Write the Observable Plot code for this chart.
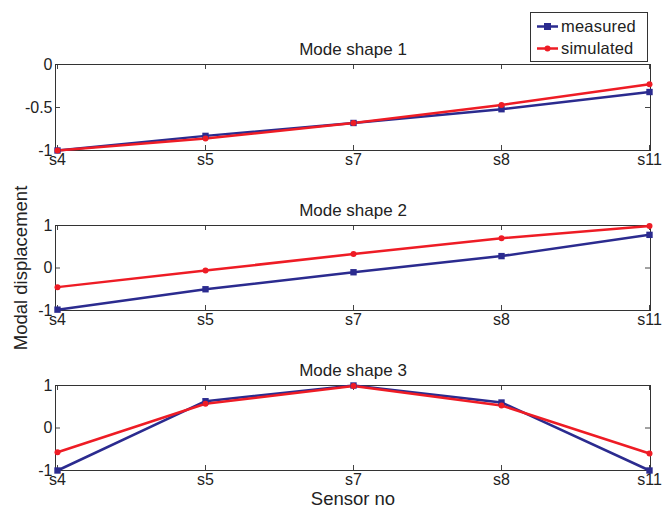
<!DOCTYPE html>
<html>
<head>
<meta charset="utf-8">
<script src="https://cdn.jsdelivr.net/npm/d3@7"></script>
<script src="https://cdn.jsdelivr.net/npm/@observablehq/plot@0.6"></script>
<style>
  html, body { margin: 0; padding: 0; background: #fff; }
  #fig { position: relative; width: 664px; height: 514px; background: #fff;
         font-family: "Liberation Sans", Arial, sans-serif; color: #222; }
  #fig svg.plot { position: absolute; left: 0; }
  #legend { position: absolute; left: 530px; top: 12px; width: 116px; height: 48px;
            border: 1px solid #333; background: #fff; font-size: 16.5px; }
  #legend .row { position: absolute; left: 6px; height: 20px; display: flex; align-items: center; }
  #legend .row span { margin-left: 3px; letter-spacing: 0.2px; }
</style>
</head>
<body>
<div id="fig"></div>
<script>
// Sensor positions along the structure
const sensors = ["s4", "s5", "s7", "s8", "s11"];

// Mode shape 1
const mode1Measured  = [-1.00, -0.83, -0.68, -0.52, -0.32];
const mode1Simulated = [-1.00, -0.86, -0.68, -0.47, -0.23];
const mode1Ticks = [-1, -0.5, 0];

// Mode shape 2
const mode2Measured  = [-0.98, -0.50, -0.10, 0.28, 0.78];
const mode2Simulated = [-0.45, -0.06, 0.33, 0.70, 0.99];
const mode2Ticks = [-1, 0, 1];

// Mode shape 3
const mode3Measured  = [-1.00, 0.63, 1.00, 0.60, -1.00];
const mode3Simulated = [-0.57, 0.57, 0.99, 0.53, -0.60];
const mode3Ticks = [-1, 0, 1];

const seriesNames = ["measured", "simulated"];
const colors = {measured: "#2b2b8f", simulated: "#ee1c25"};

const W = 664, ML = 55, MR = 14, MT = 40;
const FW = W - ML - MR;

function rows(measured, simulated) {
  return [
    ...sensors.map((s, i) => ({sensor: s, value: measured[i], series: "measured"})),
    ...sensors.map((s, i) => ({sensor: s, value: simulated[i], series: "simulated"}))
  ];
}

function panel({title, measured, simulated, domain, ticks, frameTop, frameH, mb, extra = []}) {
  const data = rows(measured, simulated);
  const chart = Plot.plot({
    width: W,
    height: MT + frameH + mb,
    marginLeft: ML, marginRight: MR, marginTop: MT, marginBottom: mb,
    style: {fontSize: "16px", fontFamily: "Liberation Sans, Arial, sans-serif", color: "#222", background: "transparent", overflow: "visible"},
    x: {type: "point", domain: sensors, padding: 0},
    y: {domain, ticks},
    marks: [
      // inward tick marks on all four sides
      Plot.tickY(ticks, {y: d => d, insetRight: FW - 5, stroke: "#444", strokeWidth: 1}),
      Plot.tickY(ticks, {y: d => d, insetLeft: FW - 5, stroke: "#444", strokeWidth: 1}),
      Plot.tickX(sensors, {x: d => d, insetBottom: frameH - 5, stroke: "#444", strokeWidth: 1}),
      Plot.tickX(sensors, {x: d => d, insetTop: frameH - 5, stroke: "#444", strokeWidth: 1}),
      Plot.axisY({ticks, tickSize: 0, tickPadding: 3, tickFormat: d => String(d), label: null}),
      Plot.axisX({tickSize: 0, tickPadding: 3, label: null}),
      Plot.frame({stroke: "#333", strokeWidth: 1}),
      Plot.line(data, {x: "sensor", y: "value", z: "series", stroke: d => colors[d.series], strokeWidth: 2.5}),
      Plot.dot(data.filter(d => d.series === "measured"), {x: "sensor", y: "value", symbol: "square", r: 3.6, fill: colors.measured, stroke: null}),
      Plot.dot(data.filter(d => d.series === "simulated"), {x: "sensor", y: "value", r: 3, fill: colors.simulated, stroke: null}),
      Plot.text([title], {frameAnchor: "top", textAnchor: "middle", dy: -22, text: d => d, fontSize: 17, fill: "#222"}),
      ...extra
    ]
  });
  chart.classList.add("plot");
  chart.style.top = (frameTop - MT) + "px";
  return chart;
}

const fig = document.getElementById("fig");

fig.appendChild(panel({
  title: "Mode shape 1", measured: mode1Measured, simulated: mode1Simulated,
  domain: [-1, 0], ticks: mode1Ticks, frameTop: 64, frameH: 86, mb: 25
}));

fig.appendChild(panel({
  title: "Mode shape 2", measured: mode2Measured, simulated: mode2Simulated,
  domain: [-1, 1], ticks: mode2Ticks, frameTop: 225, frameH: 85, mb: 25,
  extra: [Plot.text(["Modal displacement"], {frameAnchor: "left", textAnchor: "middle", dx: -34, rotate: -90, text: d => d, fontSize: 18.5, fill: "#222"})]
}));

fig.appendChild(panel({
  title: "Mode shape 3", measured: mode3Measured, simulated: mode3Simulated,
  domain: [-1, 1], ticks: mode3Ticks, frameTop: 385, frameH: 85, mb: 44,
  extra: [Plot.text(["Sensor no"], {frameAnchor: "bottom", textAnchor: "middle", dy: 34, text: d => d, fontSize: 18.5, fill: "#222"})]
}));

// Legend box
const legend = document.createElement("div");
legend.id = "legend";
seriesNames.forEach((name, i) => {
  const row = document.createElement("div");
  row.className = "row";
  row.style.top = (3 + i * 22) + "px";
  const sw = name === "measured"
    ? `<rect x="7" y="3" width="7" height="7" fill="${colors[name]}"/>`
    : `<circle cx="10.5" cy="6.5" r="3" fill="${colors[name]}"/>`;
  row.innerHTML = `<svg width="21" height="13"><line x1="0" x2="21" y1="6.5" y2="6.5" stroke="${colors[name]}" stroke-width="2.5"/>${sw}</svg><span>${name}</span>`;
  legend.appendChild(row);
});
fig.appendChild(legend);
</script>
</body>
</html>
